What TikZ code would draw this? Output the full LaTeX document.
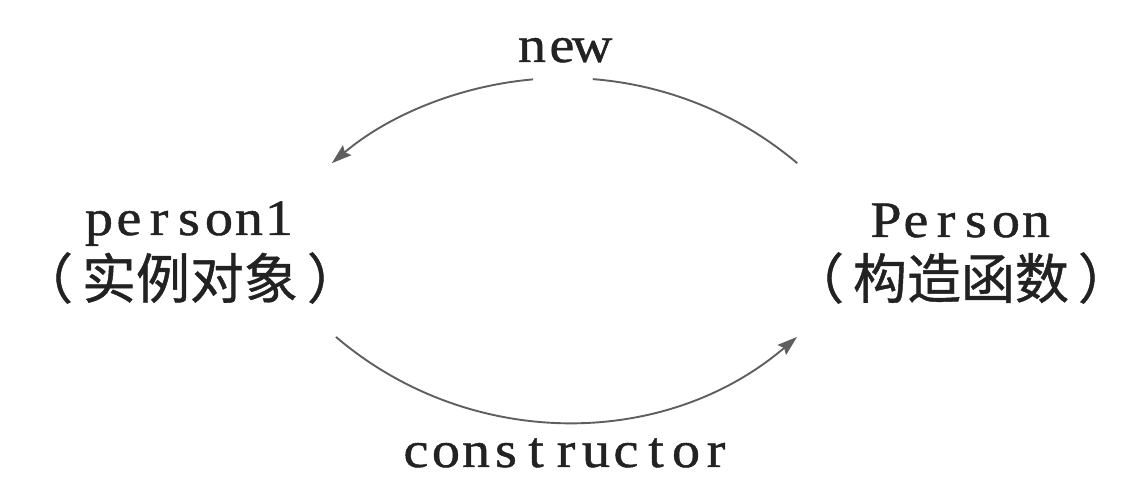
\documentclass[tikz,border=0pt]{standalone}
\usepackage{fontspec}
\setmainfont{Liberation Serif}
\newfontfamily\lat[FakeBold=0.9,FakeStretch=1.1]{Liberation Serif}
\newfontfamily\cjk[FakeBold=0.8]{Noto Sans CJK SC}
\usetikzlibrary{arrows.meta,calc}
\definecolor{txt}{HTML}{222222}
\definecolor{arccol}{HTML}{5F5F5F}
\makeatletter
\def\mono@end{}
\def\monotext#1{\mono@loop#1\mono@end}
\def\mono@loop#1{\ifx#1\mono@end\else\makebox[30pt]{#1}\expandafter\mono@loop\fi}
\makeatother
\begin{document}
\begin{tikzpicture}[x=1pt,y=1pt,
  lbl/.style={inner sep=0pt, text=txt, font=\lat\fontsize{51}{58}\selectfont},
  cjklbl/.style={inner sep=0pt, text=txt, font=\cjk\fontsize{54}{60}\selectfont},
  conn/.style={draw=arccol, line width=1.9pt},
  arrowend/.style={-{Stealth[length=20pt,width=13pt,inset=3pt]}}]
\useasboundingbox (0,0) rectangle (1140,494);
\node[lbl, anchor=base] (L1) at (189,259) {\monotext{person1}};
\node[cjklbl] (L2) at (190,216) {（\hspace{9pt}实例对象\hspace{9pt}）};
\node[lbl, anchor=base] (R1) at (961,257) {\monotext{Person}};
\node[cjklbl] (R2) at (961,216) {（\hspace{9pt}构造函数\hspace{9pt}）};
\node[lbl, anchor=base] (N) at (562,432) {\monotext{new}};
\node[lbl, anchor=base] (C) at (566,27) {\monotext{constructor}};
\coordinate (topc) at (564.5,55.5);
\coordinate (botc) at (566.5,427);
\coordinate (newFrom) at ($(topc)+(49.8:360.5)$);
\coordinate (newGap) at ($(topc)+(95:360.5)$);
\coordinate (conFrom) at ($(botc)+(-130.5:355)$);
\draw[conn] (newFrom) arc[start angle=49.8, end angle=85.5, radius=360.5];
\draw[conn, arrowend] (newGap) arc[start angle=95, end angle=130.2, radius=360.5];
\draw[conn, arrowend] (conFrom) arc[start angle=-130.5, end angle=-49.5, radius=355];
\end{tikzpicture}
\end{document}
